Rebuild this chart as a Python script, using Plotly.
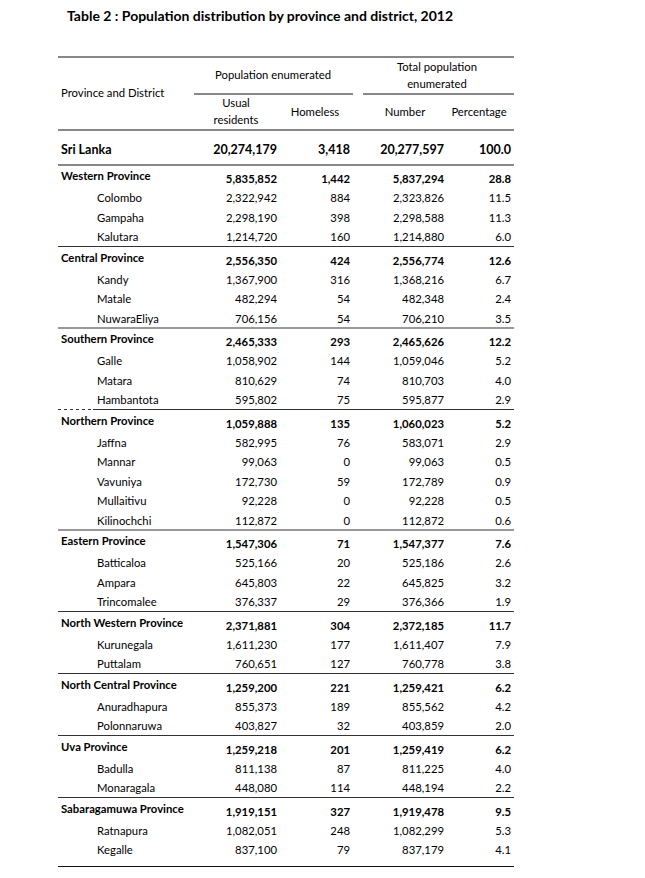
import plotly.graph_objects as go

# ---------------- data ----------------
title_text = "Table 2 : Population distribution by province and district, 2012"
country_name = "Sri Lanka"
country_values = [20274179, 3418, 20277597, 100.0]

province_names = ["Western Province", "Central Province", "Southern Province",
                  "Northern Province", "Eastern Province", "North Western Province",
                  "North Central Province", "Uva Province", "Sabaragamuwa Province"]
province_usual = [5835852, 2556350, 2465333, 1059888, 1547306, 2371881, 1259200, 1259218, 1919151]
province_homeless = [1442, 424, 293, 135, 71, 304, 221, 201, 327]
province_total = [5837294, 2556774, 2465626, 1060023, 1547377, 2372185, 1259421, 1259419, 1919478]
province_pct = [28.8, 12.6, 12.2, 5.2, 7.6, 11.7, 6.2, 6.2, 9.5]

district_names = ["Colombo", "Gampaha", "Kalutara", "Kandy", "Matale", "NuwaraEliya",
                  "Galle", "Matara", "Hambantota", "Jaffna", "Mannar", "Vavuniya",
                  "Mullaitivu", "Kilinochchi", "Batticaloa", "Ampara", "Trincomalee",
                  "Kurunegala", "Puttalam", "Anuradhapura", "Polonnaruwa", "Badulla",
                  "Monaragala", "Ratnapura", "Kegalle"]
district_province = [0, 0, 0, 1, 1, 1, 2, 2, 2, 3, 3, 3, 3, 3, 4, 4, 4, 5, 5, 6, 6, 7, 7, 8, 8]
district_usual = [2322942, 2298190, 1214720, 1367900, 482294, 706156, 1058902, 810629, 595802,
                  582995, 99063, 172730, 92228, 112872, 525166, 645803, 376337, 1611230, 760651,
                  855373, 403827, 811138, 448080, 1082051, 837100]
district_homeless = [884, 398, 160, 316, 54, 54, 144, 74, 75, 76, 0, 59, 0, 0, 20, 22, 29,
                     177, 127, 189, 32, 87, 114, 248, 79]
district_total = [2323826, 2298588, 1214880, 1368216, 482348, 706210, 1059046, 810703, 595877,
                  583071, 99063, 172789, 92228, 112872, 525186, 645825, 376366, 1611407, 760778,
                  855562, 403859, 811225, 448194, 1082299, 837179]
district_pct = [11.5, 11.3, 6.0, 6.7, 2.4, 3.5, 5.2, 4.0, 2.9, 2.9, 0.5, 0.9, 0.5, 0.6, 2.6,
                3.2, 1.9, 7.9, 3.8, 4.2, 2.0, 4.0, 2.2, 5.3, 4.1]

header_stub = "Province and District"
header_group1 = "Population enumerated"
header_group2 = ["Total population", "enumerated"]
header_usual = ["Usual", "residents"]
header_homeless = "Homeless"
header_number = "Number"
header_pct = "Percentage"

# ---------------- layout constants ----------------
W, H = 645, 878
PAGE_MARGIN = 8  # browser default body margin
FONT = "Lato"
FS = 11.3
TXT = "#000000"
LINE = "#333333"
X_LEFT, X_RIGHT = 58, 514
X_NAME, X_DIST = 61, 97
COL_RIGHT = [277, 350, 444, 511]


def fmt_int(v):
    return f"{v:,}"


def fmt_pct(v):
    return f"{v:.1f}"


def fmt_row(vals):
    return [fmt_int(vals[0]), fmt_int(vals[1]), fmt_int(vals[2]), fmt_pct(vals[3])]


# compute row positions
first_line = 165
lines_y = [first_line]
prov_label_y, prov_val_y, dist_y = [], [], []
L = first_line
for p in range(len(province_names)):
    prov_label_y.append(L + 12.5)
    prov_val_y.append(L + 15.5)
    idx = [i for i, d in enumerate(district_province) if d == p]
    last = None
    for k, i in enumerate(idx):
        y = L + 34.5 + 19.5 * k
        dist_y.append(y)
        last = y
    L = last + 8
    lines_y.append(L)
lines_y[-1] = dist_y[-1] + 15  # bottom rule

fig = go.Figure()


def text_trace(xs, ys, texts, pos, bold=False, size=FS):
    fig.add_trace(go.Scatter(
        x=xs, y=ys, text=[f"<b>{t}</b>" if bold else t for t in texts],
        mode="text", textposition=pos, hoverinfo="skip", showlegend=False,
        cliponaxis=False,
        textfont=dict(family=FONT, size=size, color=TXT)))


# title
text_trace([67], [17], [title_text], "middle right", bold=True, size=14)

# headers
text_trace([X_NAME], [94], [header_stub], "middle right")
text_trace([273], [76], [header_group1], "middle center")
text_trace([437, 437], [68, 85], header_group2, "middle center")
text_trace([236, 236], [104, 121], header_usual, "middle center")
text_trace([315], [113], [header_homeless], "middle center")
text_trace([405], [113], [header_number], "middle center")
text_trace([479], [113], [header_pct], "middle center")

# country row
text_trace([X_NAME], [151], [country_name], "middle right", bold=True, size=12.5)
cv = fmt_row(country_values)
text_trace(COL_RIGHT, [151] * 4, cv, "middle left", bold=True, size=12.5)

# province rows
text_trace([X_NAME] * len(province_names), prov_label_y, province_names, "middle right", bold=True)
prov_cols = [province_usual, province_homeless, province_total, province_pct]
for c, col in enumerate(prov_cols):
    txt = [fmt_pct(v) if c == 3 else fmt_int(v) for v in col]
    text_trace([COL_RIGHT[c]] * len(col), prov_val_y, txt, "middle left", bold=True)

# district rows
text_trace([X_DIST] * len(district_names), dist_y, district_names, "middle right")
dist_cols = [district_usual, district_homeless, district_total, district_pct]
for c, col in enumerate(dist_cols):
    txt = [fmt_pct(v) if c == 3 else fmt_int(v) for v in col]
    text_trace([COL_RIGHT[c]] * len(col), dist_y, txt, "middle left")

# rules
shapes = []


def hline(x0, x1, y, dash="solid", color=LINE, width=1):
    shapes.append(dict(type="line", xref="x", yref="y", x0=x0, x1=x1, y0=y, y1=y,
                       line=dict(color=color, width=width, dash=dash)))


hline(X_LEFT, X_RIGHT, 57, color="#111111")
hline(194, 353, 94, color="#111111")
hline(363, X_RIGHT, 94, color="#111111")
hline(X_LEFT, X_RIGHT, 130, color="#111111")
for i, y in enumerate(lines_y):
    if i == 3:  # dotted start after Southern Province
        hline(X_LEFT, 93, y, dash="dot")
        hline(93, X_RIGHT, y)
    else:
        hline(X_LEFT, X_RIGHT, y, color="#111111" if i in (0, len(lines_y) - 1) else LINE)

fig.update_layout(
    width=W, height=H, margin=dict(l=0, r=0, t=0, b=0),
    paper_bgcolor="white", plot_bgcolor="white",
    xaxis=dict(range=[PAGE_MARGIN, W + PAGE_MARGIN], visible=False, fixedrange=True),
    yaxis=dict(range=[H + PAGE_MARGIN, PAGE_MARGIN], visible=False, fixedrange=True),
    shapes=shapes, font=dict(family=FONT, color=TXT),
)

fig.write_html("out.html")
